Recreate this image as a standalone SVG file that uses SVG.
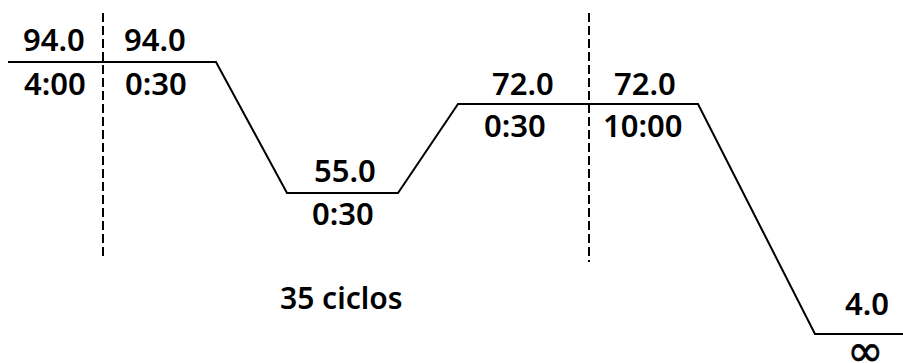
<svg xmlns="http://www.w3.org/2000/svg" width="903" height="363" viewBox="0 0 903 363">
  <style>
    .lbl { font-family: "Noto Sans", "DejaVu Sans", sans-serif; font-size: 31px; font-weight: 600; fill: #000; }
    .cyc { font-family: "Noto Sans", "DejaVu Sans", sans-serif; font-size: 30px; font-weight: 600; fill: #000; }
    .inf { font-family: "DejaVu Sans", sans-serif; font-size: 44px; fill: #000; stroke: #000; stroke-width: 0.6; }
    .profile { fill: none; stroke: #000; stroke-width: 2; stroke-linejoin: miter; }
    .divider { fill: none; stroke: #000; stroke-width: 2; stroke-dasharray: 9 4; }
  </style>
  <rect width="903" height="363" fill="#fff"/>

  <!-- temperature profile and cycle boundaries -->
  <g id="connectors">
    <path class="profile" d="M8 62 H216 L287 193 H398 L458 104 H698 L815 334 H903"/>
    <line class="divider" x1="103" y1="13" x2="103" y2="260"/>
    <line class="divider" x1="589" y1="13" x2="589" y2="262"/>
  </g>

  <!-- initial denaturation -->
  <g id="step-initial">
    <text class="lbl" x="23" y="51">94.0</text>
    <text class="lbl" x="24" y="95">4:00</text>
  </g>

  <!-- cycle denaturation -->
  <g id="step-denature">
    <text class="lbl" x="124" y="51">94.0</text>
    <text class="lbl" x="125" y="95">0:30</text>
  </g>

  <!-- annealing -->
  <g id="step-anneal">
    <text class="lbl" x="314" y="182">55.0</text>
    <text class="lbl" x="312" y="225">0:30</text>
  </g>

  <!-- extension -->
  <g id="step-extend">
    <text class="lbl" x="492" y="95">72.0</text>
    <text class="lbl" x="484" y="137">0:30</text>
  </g>

  <!-- final extension -->
  <g id="step-final">
    <text class="lbl" x="614" y="95">72.0</text>
    <text class="lbl" x="603" y="137">10:00</text>
  </g>

  <!-- hold -->
  <g id="step-hold">
    <text class="lbl" x="845" y="315">4.0</text>
    <text class="inf" x="847" y="366">∞</text>
  </g>

  <g id="cycles">
    <text class="cyc" x="280" y="309">35 ciclos</text>
  </g>
</svg>
